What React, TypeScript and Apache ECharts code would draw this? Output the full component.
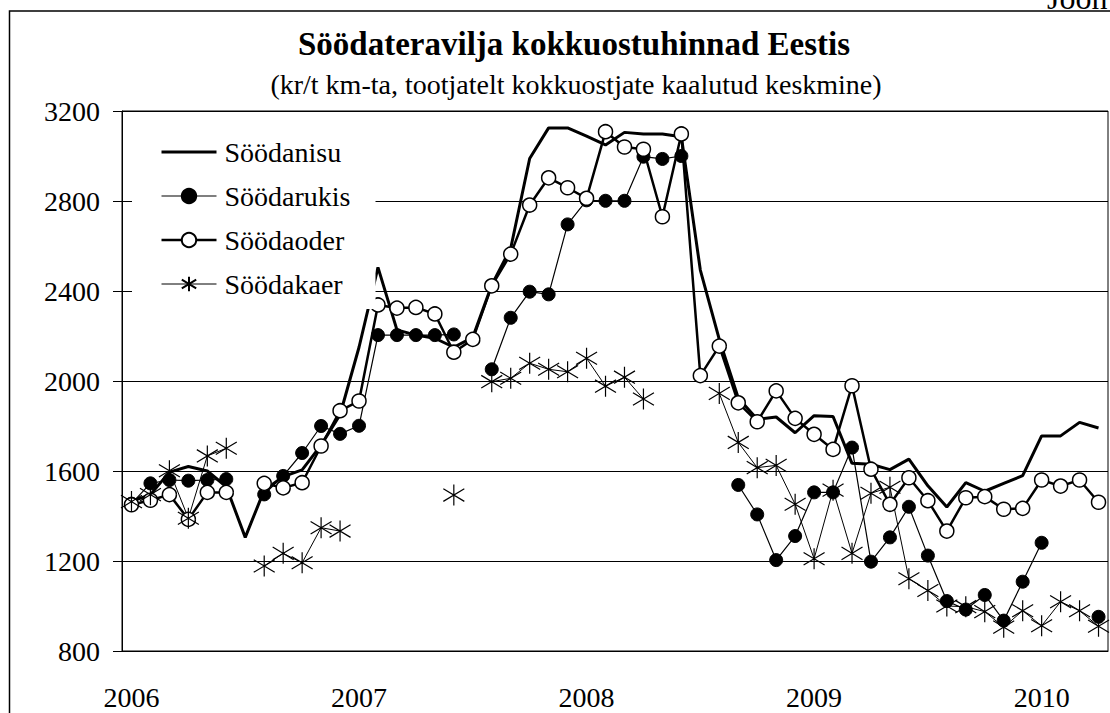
import React, { useEffect, useRef } from "react";
import * as echarts from "echarts";

const FONT = "Liberation Serif";

const titleText = "Söödateravilja kokkuostuhinnad Eestis";
const subtitleText = "(kr/t km-ta, tootjatelt kokkuostjate kaalutud keskmine)";
const cornerText = "Joon";

const months = [
  "2006-01", "2006-02", "2006-03", "2006-04", "2006-05", "2006-06", "2006-07", "2006-08", "2006-09", "2006-10", "2006-11", "2006-12",
  "2007-01", "2007-02", "2007-03", "2007-04", "2007-05", "2007-06", "2007-07", "2007-08", "2007-09", "2007-10", "2007-11", "2007-12",
  "2008-01", "2008-02", "2008-03", "2008-04", "2008-05", "2008-06", "2008-07", "2008-08", "2008-09", "2008-10", "2008-11", "2008-12",
  "2009-01", "2009-02", "2009-03", "2009-04", "2009-05", "2009-06", "2009-07", "2009-08", "2009-09", "2009-10", "2009-11", "2009-12",
  "2010-01", "2010-02", "2010-03", "2010-04",
];

const seriesNames = ["Söödanisu", "Söödarukis", "Söödaoder", "Söödakaer"];

const nisu = [
  1465, 1495, 1595, 1620, 1600, 1530, 1305, 1515, 1575, 1605, 1715, 1850,
  2150, 2505, 2227, 2204, 2190, 2150, 2194, 2427, 2590, 2989, 3125, 3125,
  3088, 3049, 3105, 3098, 3098, 3086, 2493, 2185, 1925, 1830, 1840, 1770,
  1846, 1842, 1634, 1630, 1606, 1653, 1534, 1440, 1548, 1510, 1545, 1579,
  1756, 1756, 1816, 1791,
];

const rukis = [
  1455, 1545, 1560, 1557, 1560, 1564, null, 1496, 1578, 1680, 1800, 1765,
  1801, 2204, 2204, 2204, 2204, 2207, null, 2052, 2281, 2397, 2385, 2696,
  2803, 2801, 2801, 2997, 2987, 3000, null, null, 1538, 1407, 1204, 1311,
  1505, 1505, 1704, 1197, 1305, 1441, 1224, 1022, 984, 1049, 935, 1108,
  1281, null, null, 952,
];

const oder = [
  1450, 1470, 1495, 1385, 1505, 1505, null, 1545, 1525, 1548, 1711, 1868,
  1911, 2338, 2324, 2327, 2298, 2128, 2185, 2423, 2564, 2782, 2903, 2859,
  2812, 3108, 3040, 3030, 2730, 3098, 2024, 2155, 1903, 1819, 1956, 1834,
  1763, 1696, 1979, 1608, 1452, 1570, 1468, 1333, 1481, 1486, 1430, 1434,
  1560, 1533, 1560, 1461,
];

const kaer = [
  1464, 1495, 1601, 1390, 1667, 1701, null, 1178, 1234, 1192, 1348, 1333,
  null, null, null, null, null, 1493, null, 1997, 2012, 2079, 2052, 2041,
  2101, 1977, 2017, 1920, null, null, null, 1945, 1727, 1615, 1625, 1452,
  1210, 1515, 1234, 1501, 1528, 1121, 1069, 1000, 997, 975, 906, 979,
  912, 1019, 979, 910,
];

const yMin = 800;
const yMax = 3200;
const yStep = 400;

const starPath = "path://M10 0L10 20M0 4L20 16M0 16L20 4";

export default function App() {
  const ref = useRef<HTMLDivElement>(null);

  useEffect(() => {
    if (!ref.current) return;
    const chart = echarts.init(ref.current, null, { renderer: "svg" });
    const black = "#000";
    chart.setOption({
      animation: false,
      backgroundColor: "#fff",
      textStyle: { fontFamily: FONT, color: black },
      graphic: [
        {
          type: "rect",
          shape: { x: 9.5, y: 11, width: 1200, height: 800 },
          style: { fill: "none", stroke: black, lineWidth: 1.5 },
          silent: true,
        },
        {
          type: "text",
          x: 1047,
          y: -2,
          style: {
            text: cornerText,
            fontFamily: FONT,
            fontSize: 32,
            fill: black,
            textAlign: "left",
            textVerticalAlign: "middle",
          },
        },
        {
          type: "text",
          x: 574,
          y: 44,
          style: {
            text: titleText,
            fontFamily: FONT,
            fontSize: 33,
            fontWeight: "bold",
            fill: black,
            textAlign: "center",
            textVerticalAlign: "middle",
          },
        },
        {
          type: "text",
          x: 576,
          y: 84,
          style: {
            text: subtitleText,
            fontFamily: FONT,
            fontSize: 28,
            fill: black,
            textAlign: "center",
            textVerticalAlign: "middle",
          },
        },
      ],
      grid: {
        left: 122,
        right: 2,
        top: 111,
        bottom: 62,
        show: true,
        borderColor: black,
        borderWidth: 1,
        backgroundColor: "transparent",
      },
      legend: {
        orient: "vertical",
        left: 132,
        top: 127,
        padding: [10, 25, 10, 28],
        backgroundColor: "#fff",
        borderWidth: 0,
        itemWidth: 55,
        itemHeight: 18,
        itemGap: 14,
        textStyle: { fontSize: 28, fontFamily: FONT, color: black, lineHeight: 30, padding: [0, 0, 0, 3] },
        data: [
          { name: seriesNames[0], itemStyle: { opacity: 0 }, lineStyle: { width: 3 } },
          { name: seriesNames[1], lineStyle: { width: 1.2 } },
          { name: seriesNames[2], lineStyle: { width: 2.5 } },
          { name: seriesNames[3], lineStyle: { width: 1 } },
        ],
      },
      xAxis: {
        type: "category",
        data: months,
        boundaryGap: true,
        axisLine: { lineStyle: { color: black, width: 1 } },
        axisTick: { interval: 11, length: 8, lineStyle: { color: black, width: 1 } },
        axisLabel: {
          interval: 11,
          formatter: (v: string) => v.slice(0, 4),
          fontSize: 28,
          fontFamily: FONT,
          color: black,
          margin: 32,
        },
        splitLine: { show: false },
      },
      yAxis: {
        type: "value",
        min: yMin,
        max: yMax,
        interval: yStep,
        axisLine: { show: true, lineStyle: { color: black, width: 1 } },
        axisTick: { show: true, length: 9, lineStyle: { color: black, width: 1 } },
        axisLabel: {
          fontSize: 28,
          fontFamily: FONT,
          color: black,
          margin: 22,
          formatter: (v: number) => String(v),
        },
        splitLine: { show: true, lineStyle: { color: black, width: 1 } },
      },
      series: [
        {
          name: seriesNames[0],
          type: "line",
          data: nisu,
          symbol: "none",
          connectNulls: false,
          lineStyle: { color: black, width: 3 },
          itemStyle: { color: black },
        },
        {
          name: seriesNames[1],
          type: "line",
          data: rukis,
          symbol: "circle",
          symbolSize: 13,
          showAllSymbol: true,
          connectNulls: false,
          lineStyle: { color: black, width: 1.2 },
          itemStyle: { color: black, borderColor: black, borderWidth: 1 },
        },
        {
          name: seriesNames[2],
          type: "line",
          data: oder,
          symbol: "circle",
          symbolSize: 14,
          showAllSymbol: true,
          connectNulls: false,
          lineStyle: { color: black, width: 2.5 },
          itemStyle: { color: "#fff", borderColor: black, borderWidth: 1.5 },
        },
        {
          name: seriesNames[3],
          type: "line",
          data: kaer,
          symbol: starPath,
          symbolSize: 21,
          showAllSymbol: true,
          connectNulls: false,
          lineStyle: { color: black, width: 1 },
          itemStyle: { color: "none", borderColor: black, borderWidth: 1.2 },
        },
      ],
    });
    return () => chart.dispose();
  }, []);

  return (
    <div
      ref={ref}
      style={{ position: "fixed", left: 0, top: 0, width: 1110, height: 713, background: "#fff" }}
    />
  );
}
